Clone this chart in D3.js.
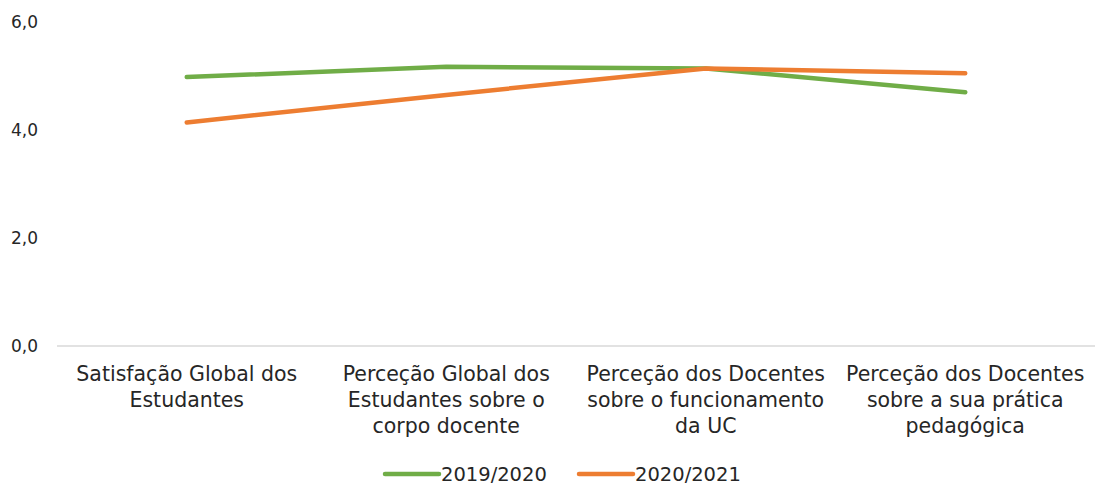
<!DOCTYPE html>
<html><head><meta charset="utf-8">
<script src="https://cdn.jsdelivr.net/npm/d3@7"></script>
<style>body{margin:0;background:#fff}svg{display:block}text{font-family:"DejaVu Sans",sans-serif;fill:#262626}</style>
</head><body><svg id="c" width="1097" height="485"></svg>
<script>
const categories = [
  ["Satisfação Global dos", "Estudantes"],
  ["Perceção Global dos", "Estudantes sobre o", "corpo docente"],
  ["Perceção dos Docentes", "sobre o funcionamento", "da UC"],
  ["Perceção dos Docentes", "sobre a sua prática", "pedagógica"]
];
const seriesNames = ["2019/2020", "2020/2021"];
const values2019 = [4.98, 5.17, 5.14, 4.70];
const values2020 = [4.14, 4.65, 5.14, 5.05];
const yTicks = [0, 2, 4, 6];
const colors = ["#70ad47", "#ed7d31"];

const svg = d3.select("#c");
const x = d3.scaleBand().domain(d3.range(categories.length)).range([57, 1095]);
const y = d3.scaleLinear().domain([0, 6]).range([346, 22]);
const fmt = v => d3.format(".1f")(v).replace(".", ",");

svg.append("line").attr("x1", 57).attr("x2", 1095).attr("y1", y(0)).attr("y2", y(0))
  .attr("stroke", "#d9d9d9").attr("stroke-width", 1.3);

svg.append("g").selectAll("text").data(yTicks).join("text")
  .attr("x", 38).attr("y", d => y(d)).attr("dy", "0.35em").attr("text-anchor", "end")
  .attr("font-size", 17).text(fmt);

const cl = svg.append("g").selectAll("text").data(categories).join("text")
  .attr("text-anchor", "middle").attr("font-size", 20.5)
  .attr("transform", (d, i) => `translate(${x(i) + x.bandwidth() / 2},381)`);
cl.selectAll("tspan").data(d => d).join("tspan")
  .attr("x", 0).attr("y", (d, j) => j * 26).text(d => d);

const line = d3.line().x((d, i) => x(i) + x.bandwidth() / 2).y(d => y(d));
[values2019, values2020].forEach((vals, k) => {
  svg.append("path").datum(vals).attr("d", line).attr("fill", "none")
    .attr("stroke", colors[k]).attr("stroke-width", 4.5).attr("stroke-linecap", "round").attr("stroke-linejoin", "round");
});

const lg = svg.append("g").selectAll("g").data(seriesNames).join("g")
  .attr("transform", (d, i) => `translate(${385 + i * 194},474)`);
lg.append("line").attr("x1", 0).attr("x2", 54).attr("stroke", (d, i) => colors[i])
  .attr("stroke-width", 4.5).attr("stroke-linecap", "round");
lg.append("text").attr("x", 56).attr("dy", "0.35em").attr("font-size", 19.5).text(d => d);
</script></body></html>
